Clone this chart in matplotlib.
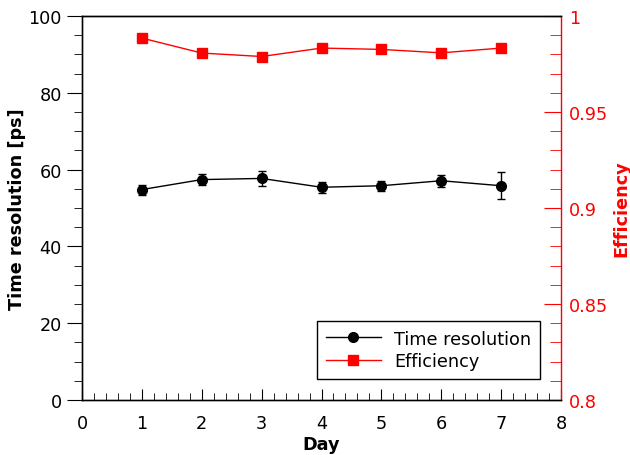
import matplotlib
matplotlib.use("Agg")
import matplotlib.pyplot as plt
from matplotlib.ticker import MultipleLocator, FuncFormatter
from matplotlib.lines import Line2D

plt.rcParams['font.family'] = ['DejaVu Sans']

days = [1, 2, 3, 4, 5, 6, 7]
time_res = [54.8, 57.4, 57.7, 55.4, 55.8, 57.1, 55.8]
time_err = [1.3, 1.5, 1.9, 1.5, 1.3, 1.6, 3.5]
efficiency = [0.9885, 0.9807, 0.9789, 0.9833, 0.9826, 0.9808, 0.9833]
eff_err = [0.001, 0.001, 0.001, 0.001, 0.001, 0.001, 0.001]

fs = 12.7
fig = plt.figure(figsize=(6.3, 4.56), dpi=100)
ax = fig.add_axes([82/630, 55/456, (561-82)/630, (401-17)/456])
ax2 = ax.twinx()

ax.errorbar(days, time_res, yerr=time_err, color='black', marker='o', ms=7,
            lw=1, capsize=3, elinewidth=1, capthick=1)
ax2.errorbar(days, efficiency, yerr=eff_err, color='red', marker='s', ms=7,
             lw=1, capsize=0, elinewidth=1)

ax.set_xlim(0, 8)
ax.set_ylim(0, 100)
ax2.set_ylim(0.8, 1.0)

ax.xaxis.set_major_locator(MultipleLocator(1))
ax.xaxis.set_minor_locator(MultipleLocator(0.2))
ax.yaxis.set_major_locator(MultipleLocator(20))
ax.yaxis.set_minor_locator(MultipleLocator(5))
ax2.yaxis.set_major_locator(MultipleLocator(0.05))
ax2.yaxis.set_minor_locator(MultipleLocator(0.01))
ax2.yaxis.set_major_formatter(FuncFormatter(lambda v, p: f"{v:.2f}".rstrip('0').rstrip('.')))

ax.tick_params(axis='x', which='both', direction='in', top=False, labelsize=fs, pad=10)
ax.tick_params(axis='x', which='major', length=8)
ax.tick_params(axis='x', which='minor', length=5)
ax.tick_params(axis='y', which='both', direction='out', labelsize=fs)
ax.tick_params(axis='y', which='major', length=11)
ax.tick_params(axis='y', which='minor', length=6)

ax2.tick_params(axis='y', which='both', direction='in', colors='red', labelsize=fs, pad=6)
ax2.tick_params(axis='y', which='major', length=12)
ax2.tick_params(axis='y', which='minor', length=8)
ax2.spines['right'].set_color('red')
ax.spines['right'].set_visible(False)

for a in (ax, ax2):
    for s in a.spines.values():
        s.set_linewidth(1)
ax.spines['left'].set_color('#333333')
ax.spines['bottom'].set_color('#333333')

ax.set_xlabel('Day', fontsize=fs, fontweight='bold', labelpad=2)
ax.set_ylabel('Time resolution [ps]', fontsize=fs, fontweight='bold', labelpad=2)
ax2.set_ylabel('Efficiency', fontsize=fs, fontweight='bold', color='red', labelpad=3)

h1 = Line2D([], [], color='black', marker='o', ms=7, lw=1)
h2 = Line2D([], [], color='red', marker='s', ms=7, lw=1)
leg = ax.legend([h1, h2], ['Time resolution', 'Efficiency'], loc='lower right',
                bbox_to_anchor=(0.956, 0.055), borderaxespad=0, fontsize=fs,
                fancybox=False, edgecolor='black', framealpha=1, borderpad=0.5,
                handlelength=3.1, handletextpad=0.75, labelspacing=0.25)
leg.get_frame().set_linewidth(1)

fig.savefig('out.png', dpi=100)
